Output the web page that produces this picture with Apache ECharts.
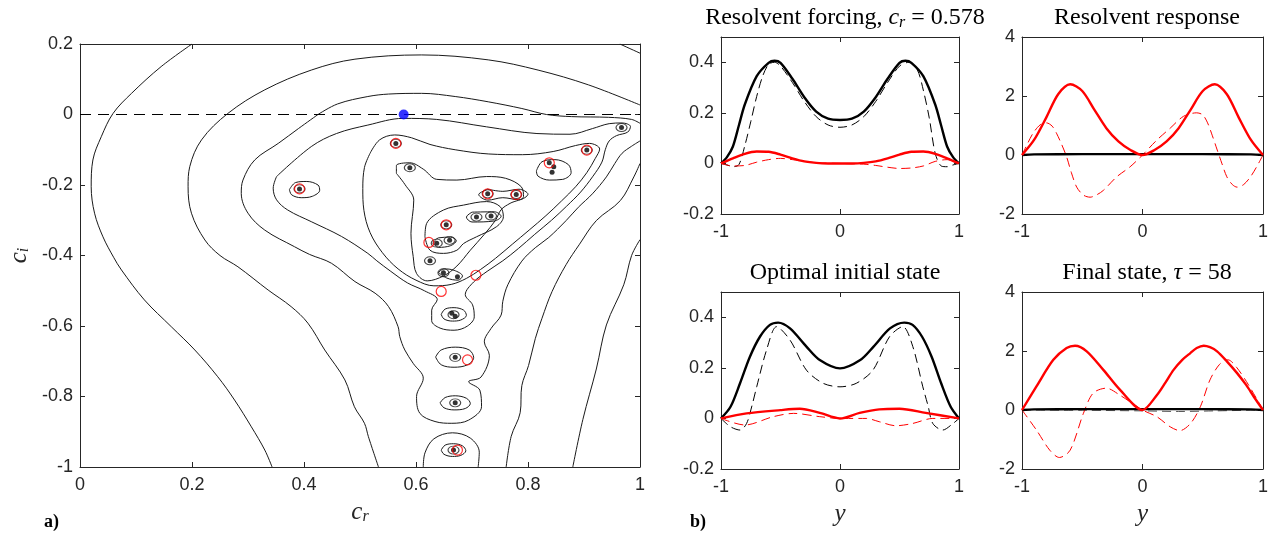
<!DOCTYPE html>
<html><head><meta charset="utf-8">
<script src="https://cdn.jsdelivr.net/npm/echarts@6/dist/echarts.min.js"></script>
<style>html,body{margin:0;padding:0;background:#fff}#c{width:1272px;height:537px}</style>
</head><body><div id="c"></div><script>
// ---------------- DATA ----------------
// Panel a): pseudospectrum contour lines (c_r, c_i)
const contourA1 = [[0.2,0.2],[0.145,0.136],[0.092,0.060],[0.059,0.003],[0.038,-0.063],[0.023,-0.129],[0.020,-0.205],[0.026,-0.280],[0.041,-0.347],[0.060,-0.405],[0.074,-0.441],[0.115,-0.526],[0.163,-0.602],[0.205,-0.668],[0.246,-0.744],[0.276,-0.810],[0.306,-0.886],[0.330,-0.952],[0.343,-1.0]];
const contourA2 = [[0.964,0.2],[1.0,0.174]];
const contourA3 = [[1.0,-0.355],[0.985,-0.40],[0.971,-0.483],[0.940,-0.597],[0.922,-0.722],[0.898,-0.865],[0.880,-1.0]];
const contourB1 = [[1.0,0.027],[0.908,0.084],[0.818,0.126],[0.729,0.155],[0.610,0.169],[0.491,0.157],[0.413,0.126],[0.330,0.070],[0.264,0.003],[0.217,-0.072],[0.196,-0.148],[0.193,-0.205],[0.199,-0.280],[0.223,-0.356],[0.250,-0.400],[0.282,-0.432],[0.336,-0.498],[0.377,-0.545],[0.407,-0.592],[0.437,-0.668],[0.473,-0.753],[0.490,-0.829],[0.508,-0.876],[0.515,-0.914],[0.533,-1.0]];
const contourB2 = [[1.0,-0.139],[0.989,-0.177],[0.965,-0.244],[0.922,-0.301],[0.892,-0.368],[0.868,-0.426],[0.843,-0.502],[0.825,-0.578],[0.813,-0.636],[0.801,-0.712],[0.789,-0.769],[0.786,-0.846],[0.770,-0.913],[0.761,-1.0]];
const contourC1 = [[0.425,0.0],[0.46,0.03],[0.514,0.051],[0.551,0.058],[0.610,0.060],[0.670,0.051],[0.729,0.036],[0.789,0.017],[0.833,0.0],[0.878,-0.006],[0.944,-0.008],[0.985,-0.014],[1.0,-0.025]];
const contourC2 = [[1.0,-0.075],[0.985,-0.090],[0.968,-0.110],[0.955,-0.139],[0.94,-0.177],[0.915,-0.225],[0.89,-0.263],[0.868,-0.301],[0.837,-0.349],[0.813,-0.378],[0.789,-0.416],[0.764,-0.483],[0.755,-0.530],[0.752,-0.569],[0.734,-0.607],[0.722,-0.645],[0.731,-0.683],[0.716,-0.745],[0.694,-0.758],[0.714,-0.782],[0.717,-0.829],[0.694,-0.867],[0.664,-0.876],[0.634,-0.871],[0.607,-0.848],[0.601,-0.800],[0.613,-0.748],[0.595,-0.706],[0.580,-0.668],[0.571,-0.630],[0.568,-0.602],[0.551,-0.545],[0.527,-0.507],[0.491,-0.474],[0.449,-0.422],[0.41,-0.397],[0.383,-0.375],[0.330,-0.328],[0.300,-0.280],[0.288,-0.224],[0.291,-0.186],[0.312,-0.129],[0.354,-0.082],[0.390,-0.040],[0.425,0.0]];
const contourD = [[0.351,-0.176],[0.413,-0.091],[0.458,-0.054],[0.514,-0.030],[0.577,-0.011],[0.637,-0.014],[0.726,-0.035],[0.816,-0.054],[0.875,-0.056],[0.915,-0.040],[0.945,-0.026],[0.968,-0.024],[0.983,-0.034],[0.978,-0.050],[0.958,-0.060],[0.945,-0.075],[0.938,-0.100],[0.932,-0.135],[0.916,-0.175],[0.894,-0.22],[0.869,-0.26],[0.842,-0.30],[0.812,-0.34],[0.783,-0.38],[0.755,-0.415],[0.727,-0.445],[0.703,-0.475],[0.688,-0.511],[0.701,-0.540],[0.704,-0.574],[0.692,-0.600],[0.668,-0.612],[0.643,-0.606],[0.628,-0.585],[0.628,-0.555],[0.638,-0.525],[0.615,-0.500],[0.585,-0.478],[0.555,-0.445],[0.530,-0.415],[0.514,-0.394],[0.467,-0.346],[0.413,-0.304],[0.371,-0.271],[0.351,-0.242],[0.345,-0.209],[0.351,-0.176]];
const contourE = [[0.518,-0.110],[0.535,-0.072],[0.562,-0.058],[0.592,-0.066],[0.625,-0.085],[0.670,-0.100],[0.730,-0.112],[0.790,-0.114],[0.845,-0.105],[0.885,-0.088],[0.910,-0.082],[0.928,-0.098],[0.920,-0.125],[0.905,-0.165],[0.885,-0.205],[0.860,-0.245],[0.832,-0.287],[0.802,-0.328],[0.772,-0.368],[0.742,-0.408],[0.715,-0.440],[0.690,-0.465],[0.663,-0.482],[0.632,-0.486],[0.600,-0.470],[0.568,-0.438],[0.540,-0.392],[0.518,-0.335],[0.507,-0.272],[0.505,-0.210],[0.508,-0.150],[0.518,-0.110]];
const contourF = [[0.565,-0.167],[0.565,-0.145],[0.589,-0.137],[0.613,-0.155],[0.637,-0.184],[0.673,-0.186],[0.726,-0.176],[0.760,-0.181],[0.788,-0.205],[0.792,-0.233],[0.768,-0.252],[0.752,-0.270],[0.742,-0.300],[0.722,-0.340],[0.697,-0.385],[0.673,-0.430],[0.649,-0.458],[0.620,-0.472],[0.601,-0.451],[0.595,-0.403],[0.591,-0.337],[0.596,-0.243],[0.580,-0.198],[0.565,-0.167]];
const contourG = [[0.616,-0.347],[0.619,-0.309],[0.649,-0.271],[0.685,-0.257],[0.726,-0.247],[0.750,-0.261],[0.756,-0.290],[0.744,-0.318],[0.708,-0.347],[0.685,-0.366],[0.673,-0.385],[0.649,-0.394],[0.625,-0.385],[0.616,-0.347]];
const contourH = [[0.728,-0.212],[0.755,-0.218],[0.784,-0.212],[0.800,-0.226],[0.784,-0.242],[0.755,-0.236],[0.728,-0.243],[0.712,-0.227],[0.728,-0.212]];
const contourI = [[0.700,-0.277],[0.740,-0.276],[0.752,-0.289],[0.740,-0.302],[0.700,-0.305],[0.690,-0.291],[0.700,-0.277]];
const contourJ = [[0.815,-0.160],[0.825,-0.134],[0.848,-0.128],[0.872,-0.142],[0.877,-0.165],[0.862,-0.184],[0.838,-0.186],[0.818,-0.175],[0.815,-0.160]];
const contourK = [[0.374,-0.213],[0.385,-0.193],[0.405,-0.190],[0.425,-0.200],[0.428,-0.215],[0.415,-0.232],[0.395,-0.236],[0.378,-0.228],[0.374,-0.213]];
const contourBulb69 = [[0.635,-0.688],[0.645,-0.668],[0.670,-0.660],[0.695,-0.668],[0.703,-0.690],[0.692,-0.710],[0.668,-0.717],[0.645,-0.710],[0.635,-0.688]];
const contourBulb82 = [[0.643,-0.818],[0.652,-0.803],[0.670,-0.798],[0.690,-0.805],[0.697,-0.820],[0.688,-0.834],[0.668,-0.838],[0.650,-0.832],[0.643,-0.818]];
const contourBulb95 = [[0.613,-1.0],[0.616,-0.960],[0.632,-0.920],[0.665,-0.903],[0.697,-0.918],[0.713,-0.958],[0.711,-1.0]];
const contourBulb95b = [[0.645,-0.952],[0.652,-0.938],[0.667,-0.934],[0.683,-0.940],[0.689,-0.954],[0.680,-0.967],[0.665,-0.970],[0.650,-0.964],[0.645,-0.952]];
const contourBulb57 = [[0.645,-0.567],[0.652,-0.552],[0.668,-0.548],[0.685,-0.555],[0.690,-0.570],[0.680,-0.583],[0.665,-0.586],[0.650,-0.580],[0.645,-0.567]];
const contourPairLow = [[0.630,-0.365],[0.640,-0.350],[0.662,-0.348],[0.672,-0.358],[0.662,-0.372],[0.640,-0.377],[0.630,-0.365]];
const contourLowTri = [[0.640,-0.448],[0.650,-0.438],[0.668,-0.442],[0.683,-0.458],[0.675,-0.470],[0.655,-0.464],[0.640,-0.448]];

const eigenvalues = [[0.392,-0.211],[0.564,-0.082],[0.589,-0.151],[0.967,-0.037],[0.905,-0.101],[0.838,-0.137],[0.846,-0.148],[0.843,-0.164],[0.728,-0.225],[0.779,-0.227],[0.708,-0.291],[0.734,-0.288],[0.654,-0.313],[0.637,-0.365],[0.660,-0.357],[0.625,-0.415],[0.649,-0.449],[0.674,-0.460],[0.664,-0.564],[0.670,-0.572],[0.670,-0.689],[0.670,-0.818],[0.667,-0.952]];
const ringedEigenvalues = [[0.392,-0.211],[0.564,-0.082],[0.589,-0.151],[0.967,-0.037],[0.905,-0.101],[0.728,-0.225],[0.779,-0.227],[0.708,-0.291],[0.734,-0.288],[0.654,-0.313],[0.637,-0.365],[0.660,-0.357],[0.625,-0.415],[0.649,-0.449],[0.667,-0.568],[0.670,-0.689],[0.670,-0.818],[0.667,-0.952]];
const redCircles = [[0.564,-0.082],[0.392,-0.211],[0.905,-0.101],[0.838,-0.137],[0.728,-0.225],[0.779,-0.227],[0.654,-0.313],[0.623,-0.363],[0.707,-0.456],[0.645,-0.502],[0.692,-0.696],[0.674,-0.952]];
const optimalPoint = [[0.578,0.0]];
const neutralLine = [[0,0],[1,0]];
const crTicks = [0,0.2,0.4,0.6,0.8,1];
const ciTicks = [-1,-0.8,-0.6,-0.4,-0.2,0,0.2];

// Panel b): profiles over y
const yTicks = [-1,0,1];
const smallTicks = [-0.2,0,0.2,0.4];
const bigTicks = [-2,0,2,4];
const forcingBlack = [[-1,0],[-0.95,0.025],[-0.9,0.067],[-0.85,0.15],[-0.8,0.233],[-0.7,0.345],[-0.6,0.398],[-0.55,0.406],[-0.5,0.398],[-0.4,0.335],[-0.3,0.262],[-0.2,0.205],[-0.1,0.177],[0,0.172],[0.1,0.177],[0.2,0.205],[0.3,0.262],[0.4,0.335],[0.5,0.398],[0.55,0.406],[0.6,0.398],[0.7,0.345],[0.8,0.233],[0.85,0.15],[0.9,0.067],[0.95,0.025],[1,0]];
const forcingBlackDash = [[-1,0],[-0.95,-0.006],[-0.9,-0.013],[-0.85,-0.005],[-0.8,0.07],[-0.75,0.165],[-0.7,0.265],[-0.65,0.345],[-0.6,0.392],[-0.55,0.4],[-0.5,0.385],[-0.4,0.32],[-0.3,0.245],[-0.2,0.185],[-0.1,0.152],[0,0.143],[0.1,0.152],[0.2,0.185],[0.3,0.245],[0.4,0.32],[0.5,0.385],[0.58,0.4],[0.65,0.37],[0.7,0.29],[0.75,0.18],[0.8,0.04],[0.85,-0.01],[0.9,-0.013],[0.95,-0.006],[1,0]];
const forcingRed = [[-1,0],[-0.9,0.02],[-0.8,0.038],[-0.7,0.047],[-0.6,0.046],[-0.5,0.035],[-0.4,0.02],[-0.3,0.008],[-0.2,0.002],[-0.1,0],[0,0],[0.1,0],[0.2,0.002],[0.3,0.008],[0.4,0.02],[0.5,0.035],[0.6,0.046],[0.7,0.047],[0.8,0.038],[0.9,0.02],[1,0]];
const forcingRedDash = [[-1,0],[-0.9,-0.01],[-0.8,-0.008],[-0.7,0.005],[-0.6,0.015],[-0.5,0.02],[-0.4,0.015],[-0.3,0.008],[-0.2,0.003],[0,0],[0.2,-0.003],[0.3,-0.008],[0.4,-0.015],[0.5,-0.02],[0.6,-0.018],[0.7,-0.01],[0.8,0.008],[0.9,0.015],[1,0]];
const responseRed = [[-1,0],[-0.9,0.51],[-0.8,1.26],[-0.7,2.06],[-0.6,2.4],[-0.5,2.17],[-0.4,1.54],[-0.3,0.91],[-0.2,0.46],[-0.1,0.17],[0,0],[0.1,0.17],[0.2,0.46],[0.3,0.91],[0.4,1.54],[0.5,2.17],[0.6,2.4],[0.7,2.06],[0.8,1.26],[0.9,0.51],[1,0]];
const responseBlack = [[-1,0],[-0.9,0.02],[-0.5,0.03],[0,0.03],[0.5,0.03],[0.9,0.02],[1,0]];
const responseRedDash = [[-1,0],[-0.95,0.42],[-0.908,0.74],[-0.85,1.02],[-0.797,1.09],[-0.75,0.98],[-0.714,0.74],[-0.67,0.35],[-0.63,-0.06],[-0.59,-0.6],[-0.546,-1.09],[-0.49,-1.36],[-0.435,-1.43],[-0.38,-1.35],[-0.325,-1.2],[-0.214,-0.74],[-0.103,-0.4],[0,0],[0.12,0.51],[0.23,0.91],[0.34,1.31],[0.45,1.43],[0.5,1.36],[0.54,1.09],[0.58,0.65],[0.62,0.17],[0.66,-0.3],[0.70,-0.74],[0.745,-1.0],[0.785,-1.09],[0.84,-1.0],[0.896,-0.74],[0.95,-0.38],[1,0]];
const initialBlack = [[-1,0],[-0.92,0.046],[-0.84,0.139],[-0.757,0.244],[-0.673,0.323],[-0.589,0.370],[-0.52,0.379],[-0.42,0.356],[-0.282,0.284],[-0.17,0.231],[0,0.198],[0.17,0.231],[0.282,0.284],[0.42,0.356],[0.54,0.379],[0.61,0.370],[0.69,0.323],[0.77,0.244],[0.85,0.139],[0.93,0.046],[1,0]];
const initialBlackDash = [[-1,0],[-0.92,-0.033],[-0.84,-0.046],[-0.785,-0.02],[-0.74,0.05],[-0.70,0.125],[-0.617,0.271],[-0.533,0.363],[-0.42,0.310],[-0.282,0.191],[-0.142,0.139],[0,0.125],[0.137,0.139],[0.277,0.191],[0.416,0.323],[0.528,0.363],[0.612,0.284],[0.696,0.125],[0.74,0.05],[0.78,-0.02],[0.863,-0.046],[0.95,-0.02],[1,0]];
const initialRed = [[-1,0],[-0.785,0.02],[-0.5,0.033],[-0.338,0.038],[-0.17,0.022],[0,0],[0.165,0.022],[0.33,0.036],[0.5,0.038],[0.72,0.022],[1,0]];
const initialRedDash = [[-1,0],[-0.8,-0.026],[-0.56,0.007],[-0.39,0.02],[-0.17,0.007],[0,0],[0.22,0],[0.33,-0.013],[0.47,-0.029],[0.61,-0.02],[0.78,0],[1,0]];
const finalRed = [[-1,0],[-0.88,0.8],[-0.74,1.7],[-0.63,2.1],[-0.56,2.18],[-0.463,1.99],[-0.325,1.36],[-0.186,0.68],[0,0],[0.12,0.51],[0.19,0.93],[0.258,1.36],[0.33,1.7],[0.397,1.93],[0.45,2.1],[0.508,2.18],[0.56,2.13],[0.619,1.99],[0.70,1.65],[0.785,1.25],[0.86,0.85],[0.924,0.45],[1,0]];
const finalBlack = [[-1,0],[-0.9,0.02],[-0.5,0.03],[0,0.03],[0.5,0.03],[0.9,0.02],[1,0]];
const finalBlackDash = [[-1,0],[-0.5,-0.01],[0,-0.03],[0.3,-0.05],[0.6,-0.03],[1,0]];
const finalRedDash = [[-1,0],[-0.88,-0.68],[-0.77,-1.36],[-0.69,-1.61],[-0.6,-1.36],[-0.49,-0.11],[-0.41,0.57],[-0.3,0.74],[-0.19,0.51],[0,0],[0.12,-0.23],[0.23,-0.57],[0.31,-0.7],[0.4,-0.45],[0.48,0.11],[0.56,1.02],[0.64,1.55],[0.71,1.7],[0.78,1.45],[0.88,0.85],[1,0]];

// ---------------- CHART ----------------
const INK = '#262626';
const SANS = '"Liberation Sans", Arial, Helvetica, sans-serif';
const SERIF = '"Liberation Serif", "Times New Roman", serif';
function fmt(v){ const r = Math.round(v*10)/10; return (Math.abs(r)<1e-9) ? '0' : String(r); }
function labeller(ticks){ return v => ticks.some(t => Math.abs(t-v)<1e-6) ? fmt(v) : ''; }
const grids = [
  {left:80, top:44, width:560, height:423},
  {left:721, top:37, width:238, height:177},
  {left:1022, top:37, width:241, height:177},
  {left:721, top:292, width:238, height:177},
  {left:1022, top:292, width:241, height:177}
];
const lineAx = {show:true, onZero:false, lineStyle:{color:INK, width:1}};
const tickAx = {show:true, inside:true, length:5, lineStyle:{color:INK, width:1}};
const subRich = {i:{fontFamily:SERIF, fontStyle:'italic', fontWeight:'normal', fontSize:25, color:INK, lineHeight:26},
                 s:{fontFamily:SERIF, fontStyle:'italic', fontWeight:'normal', fontSize:16, color:INK, lineHeight:12, verticalAlign:'bottom'}};
function mkX(gi, min, max, interval, ticks, name){
  return [
    {type:'value', gridIndex:gi, position:'bottom', min, max, interval, axisLine:lineAx, axisTick:tickAx, splitLine:{show:false},
     axisLabel:{color:INK, fontFamily:SANS, fontSize:18, margin:9, formatter:labeller(ticks), showMaxLabel:true, showMinLabel:true},
     name: name || '', nameLocation:'middle', nameGap:30, nameTextStyle:{rich:subRich}},
    {type:'value', gridIndex:gi, position:'top', min, max, interval, axisLine:lineAx, axisTick:tickAx, splitLine:{show:false}, axisLabel:{show:false}}
  ];
}
function mkY(gi, min, max, interval, ticks, name){
  return [
    {type:'value', gridIndex:gi, position:'left', min, max, interval, axisLine:lineAx, axisTick:tickAx, splitLine:{show:false},
     axisLabel:{color:INK, fontFamily:SANS, fontSize:18, margin:7, formatter:labeller(ticks), showMaxLabel:true},
     name: name || '', nameLocation:'middle', nameGap:48, nameRotate:90, nameTextStyle:{rich:subRich}},
    {type:'value', gridIndex:gi, position:'right', min, max, interval, axisLine:lineAx, axisTick:tickAx, splitLine:{show:false}, axisLabel:{show:false}}
  ];
}
const xAxis = [].concat(
  mkX(0, 0, 1, 0.2, crTicks, '{i|c}{s|r}'),
  mkX(1, -1, 1, 1, yTicks), mkX(2, -1, 1, 1, yTicks),
  mkX(3, -1, 1, 1, yTicks, '{i|y}'), mkX(4, -1, 1, 1, yTicks, '{i|y}')
);
const yAxis = [].concat(
  mkY(0, -1, 0.2, 0.2, ciTicks, '{i|c}{s|i}'),
  mkY(1, -0.2, 0.5, 0.2, smallTicks), mkY(2, -2, 4, 2, bigTicks),
  mkY(3, -0.2, 0.5, 0.2, smallTicks), mkY(4, -2, 4, 2, bigTicks)
);
xAxis[0].nameGap = 32;
xAxis[6].nameGap = 32; xAxis[8].nameGap = 32;
const series = [];
function contour(d){
  series.push({type:'line', xAxisIndex:0, yAxisIndex:0, data:d, smooth:0.35, showSymbol:false, symbol:'none', clip:true,
    lineStyle:{color:'#1a1a1a', width:1}, silent:true, animation:false, z:3});
}
[contourA1,contourA2,contourA3,contourB1,contourB2,contourC1,contourC2,contourD,contourE,contourF,contourG,contourH,contourI,contourJ,contourK,
 contourBulb69,contourBulb82,contourBulb95,contourBulb95b,contourBulb57,contourPairLow,contourLowTri].forEach(contour);
series.push({type:'line', xAxisIndex:0, yAxisIndex:0, data:neutralLine, showSymbol:false, symbol:'none',
  lineStyle:{color:'#000', width:1, type:[11,7]}, animation:false, z:4});
series.push({type:'scatter', xAxisIndex:0, yAxisIndex:0, data:ringedEigenvalues, symbol:'circle', symbolSize:[11,8],
  itemStyle:{color:'rgba(0,0,0,0)', borderColor:'#1a1a1a', borderWidth:1}, animation:false, z:5});
series.push({type:'scatter', xAxisIndex:0, yAxisIndex:0, data:eigenvalues, symbol:'circle', symbolSize:5,
  itemStyle:{color:'#000'}, animation:false, z:6});
series.push({type:'scatter', xAxisIndex:0, yAxisIndex:0, data:redCircles, symbol:'circle', symbolSize:10,
  itemStyle:{color:'rgba(0,0,0,0)', borderColor:'#ff0000', borderWidth:1.2}, animation:false, z:7});
series.push({type:'scatter', xAxisIndex:0, yAxisIndex:0, data:optimalPoint, symbol:'circle', symbolSize:10,
  itemStyle:{color:'#0000ff'}, animation:false, z:8});
function prof(gi, d, color, dashed){
  series.push({type:'line', xAxisIndex:gi*2, yAxisIndex:gi*2, data:d, smooth:0.3, showSymbol:false, symbol:'none',
    lineStyle:{color, width: dashed ? 1 : 2.4, type: dashed ? [9,5] : 'solid'}, animation:false, z: dashed ? 3 : 4});
}
prof(1, forcingBlackDash, '#000', true); prof(1, forcingRedDash, '#ff0000', true);
prof(1, forcingBlack, '#000', false); prof(1, forcingRed, '#ff0000', false);
prof(2, responseRedDash, '#ff0000', true);
prof(2, responseBlack, '#000', false); prof(2, responseRed, '#ff0000', false);
prof(3, initialBlackDash, '#000', true); prof(3, initialRedDash, '#ff0000', true);
prof(3, initialBlack, '#000', false); prof(3, initialRed, '#ff0000', false);
prof(4, finalBlackDash, '#555', true); prof(4, finalRedDash, '#ff0000', true);
prof(4, finalBlack, '#000', false); prof(4, finalRed, '#ff0000', false);

const tRich = {n:{fontFamily:SERIF, fontSize:24, fontWeight:'normal', color:'#000', lineHeight:26},
               i:{fontFamily:SERIF, fontSize:24, fontStyle:'italic', fontWeight:'normal', color:'#000', lineHeight:26},
               s:{fontFamily:SERIF, fontSize:16, fontStyle:'italic', fontWeight:'normal', color:'#000', lineHeight:14, verticalAlign:'bottom'}};
const titles = [
  {text:'{n|Resolvent forcing, }{i|c}{s|r}{n| = 0.578}', left:840, top:0},
  {text:'{n|Resolvent response}', left:1142, top:0},
  {text:'{n|Optimal initial state}', left:840, top:255},
  {text:'{n|Final state, }{i|τ}{n| = 58}', left:1142, top:255}
].map(t => Object.assign(t, {textAlign:'center', textStyle:{fontWeight:'normal', rich:tRich}}));

const chart = echarts.init(document.getElementById('c'), null, {renderer:'canvas'});
chart.setOption({
  backgroundColor:'#fff', animation:false,
  grid: grids, xAxis, yAxis, series, title: titles,
  graphic:[
    {type:'text', left:44, top:513, style:{text:'a)', font:'bold 18px "Liberation Serif", serif', fill:'#000'}},
    {type:'text', left:690, top:513, style:{text:'b)', font:'bold 18px "Liberation Serif", serif', fill:'#000'}}
  ]
});
</script></body></html>
